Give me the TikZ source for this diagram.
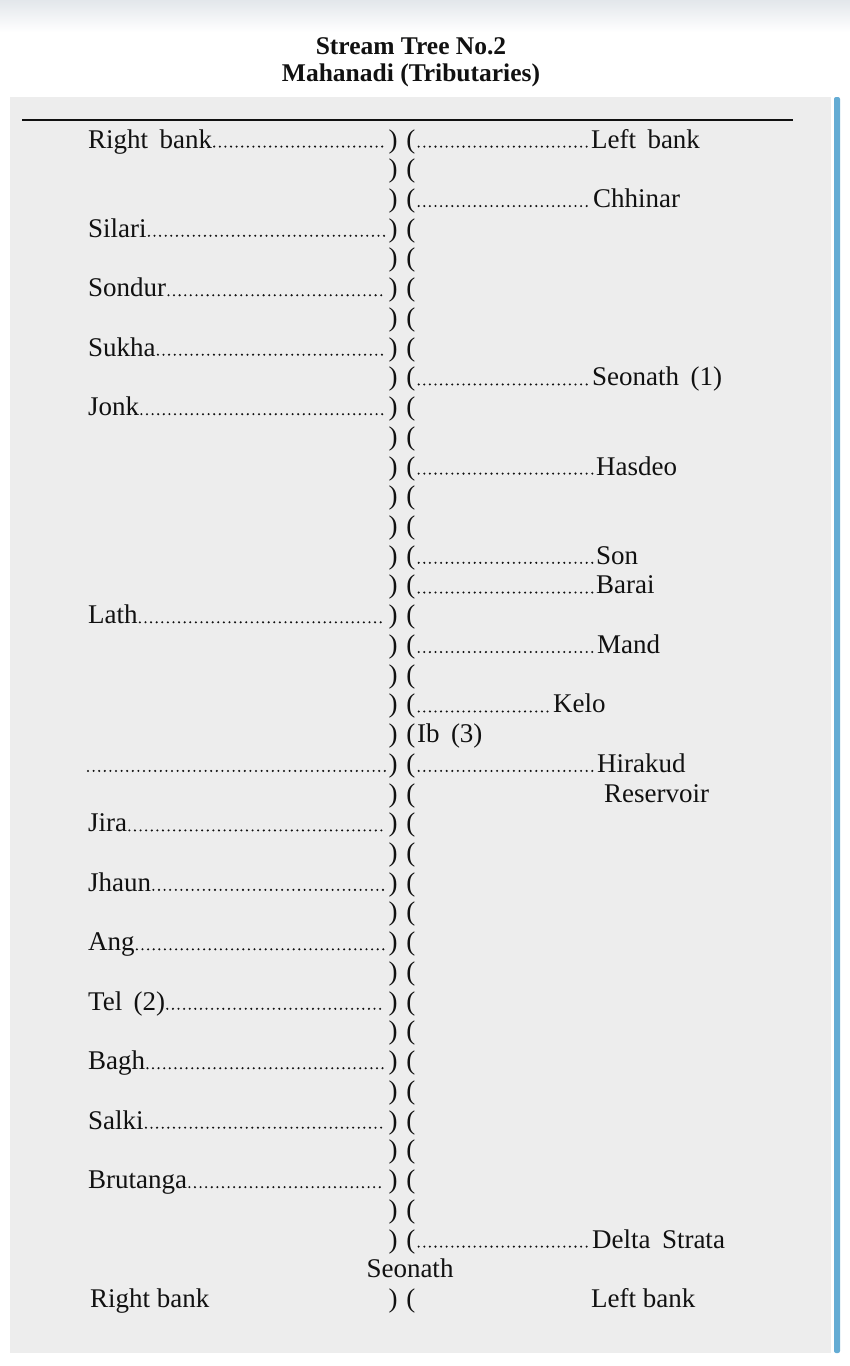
\documentclass[tikz,border=0pt]{standalone}
\usepackage{fontspec}
\setmainfont{Liberation Serif}
\newcommand\bodyfnt{\fontsize{27}{30}\selectfont}
\newcommand\titlefnt{\fontsize{25.5}{30}\selectfont\bfseries}
\newcommand\wsp{\hspace{0.42em}}
\definecolor{panel}{HTML}{EDEDED}
\definecolor{barblue}{HTML}{64ACD4}
\definecolor{ink}{HTML}{111111}
\definecolor{topgray}{HTML}{E3E7EB}
\tikzset{
  lab/.style={anchor=base west, inner sep=0pt, font=\bodyfnt, text=ink},
  par/.style={anchor=base, inner sep=0pt, font=\bodyfnt, text=ink},
  ttl/.style={anchor=base, inner sep=0pt, font=\titlefnt, text=ink},
  leader/.style={draw=ink, line width=2.3pt, line cap=round, dash pattern=on 0pt off 5.6pt},
}
\begin{document}
\begin{tikzpicture}[x=1pt,y=-1pt]
\useasboundingbox (0,0) rectangle (850,1366);
\fill[white] (0,0) rectangle (850,1366);
\shade[top color=topgray, bottom color=white] (0,0) rectangle (850,32);
\fill[panel] (10,97) rectangle (831,1353);
\fill[barblue, rounded corners=2pt] (834,97) rectangle (840,1353);
\draw[ink, line width=2pt] (22,120) -- (793,120);

% titles
\node[ttl] (t1) at (411,54) {Stream Tree No.2};
\node[ttl] (t2) at (411,81) {Mahanadi (Tributaries)};

% central parentheses
\foreach \i in {0,...,37} {
  \node[par] (p\i) at (402,{148+29.73*\i}) {)\hspace{9pt}(};
}

% left bank tributaries
\foreach \i/\t in {0/Right\wsp bank, 3/Silari, 5/Sondur, 7/Sukha, 9/Jonk, 16/Lath,
                   23/Jira, 25/Jhaun, 27/Ang, 29/Tel\wsp (2), 31/Bagh, 33/Salki, 35/Brutanga} {
  \node[lab] (l\i) at (88,{148+29.73*\i}) {\t};
  \draw[leader] ([xshift=2pt,yshift=1.4pt]l\i.base east) -- ([xshift=-3pt,yshift=1.4pt]p\i.base west);
}
\coordinate (l21) at (88,{148+29.73*21});
\draw[leader] ([yshift=1.4pt]l21) -- ([xshift=-3pt,yshift=1.4pt]p21.base west);

% right bank tributaries
\foreach \i/\x/\t in {0/591/Left\wsp bank, 2/593/Chhinar, 8/592/Seonath\wsp (1), 11/596/Hasdeo,
                      14/596/Son, 15/596/Barai, 17/597/Mand, 19/553/Kelo, 21/597/Hirakud,
                      37/592/Delta\wsp Strata} {
  \node[lab] (r\i) at (\x,{148+29.73*\i}) {\t};
  \draw[leader] ([xshift=3pt,yshift=1.4pt]p\i.base east) -- ([xshift=-3pt,yshift=1.4pt]r\i.base west);
}
\node[lab] (r20) at (417,{148+29.73*20}) {Ib\wsp (3)};
\node[lab] (r22) at (604,{148+29.73*22}) {Reservoir};

% bottom lines
\node[par] (bs) at (410,{148+29.73*38}) {Seonath};
\node[lab] (bl) at (90,{148+29.73*39}) {Right bank};
\node[par] (bp) at (402,{148+29.73*39}) {)\hspace{9pt}(};
\node[lab] (br) at (591,{148+29.73*39}) {Left bank};
\end{tikzpicture}
\end{document}
